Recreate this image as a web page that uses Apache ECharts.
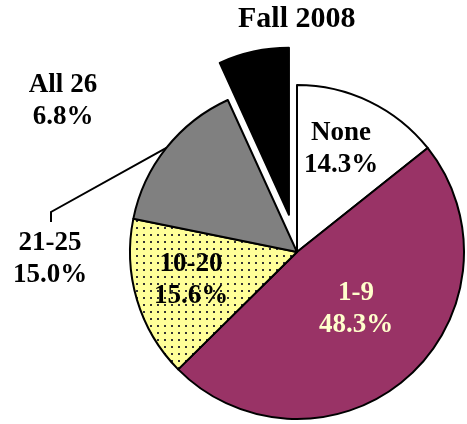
<!DOCTYPE html>
<html><head><meta charset="utf-8">
<script src="https://cdn.jsdelivr.net/npm/echarts@6/dist/echarts.min.js"></script>
<style>html,body{margin:0;padding:0;background:#fff}#c{width:467px;height:424px}</style>
</head><body><div id="c"></div>
<script>
// ---- data ----
const chartTitle = 'Fall 2008';
const categories = ['None', '1-9', '10-20', '21-25', 'All 26'];
const values = [14.3, 48.3, 15.6, 15.0, 6.8];
const explodedCategory = 'All 26';
const leaderLineCategory = '21-25';

// ---- styles ----
const FONT = 'Liberation Serif, Times New Roman, serif';
const CENTER = [297, 252];
const RADIUS = 167;

function dotPattern() {
  const c = document.createElement('canvas');
  c.width = 7; c.height = 7;
  const ctx = c.getContext('2d');
  ctx.fillStyle = '#FFFF99';
  ctx.fillRect(0, 0, 7, 7);
  ctx.fillStyle = '#333';
  ctx.fillRect(3, 3, 2, 2);
  return c;
}
const sliceColors = ['#FFFFFF', '#993366', { image: dotPattern(), repeat: 'repeat' }, '#808080', '#000000'];
const labelColors = ['#000', '#FFFFCC', '#000', '#000', '#000'];
const labelInside = [true, true, true, false, false];
const labelPos = [[341, 149], [356, 309], [191, 280], [50, 259], [63, 101]];

const total = values.reduce((a, b) => a + b, 0);
function midAngle(i) { // clockwise from top, radians
  let cum = 0;
  for (let k = 0; k < i; k++) cum += values[k];
  return (cum + values[i] / 2) / total * 2 * Math.PI;
}

// Pie slices (with the exploded one selected)
const sliceData = categories.map((name, i) => ({
  name: name,
  value: values[i],
  selected: name === explodedCategory,
  itemStyle: { color: sliceColors[i] },
  select: { itemStyle: { color: sliceColors[i], borderColor: '#000', borderWidth: 2 } }
}));

// Label layer: same values, transparent sectors, carries the labels
const labelData = categories.map((name, i) => ({
  name: name,
  value: values[i],
  label: { position: labelInside[i] ? 'inside' : 'outside', color: labelColors[i] },
  labelLine: { show: name === leaderLineCategory, lineStyle: { color: '#000', width: 2 } }
}));

const chart = echarts.init(document.getElementById('c'), null, { renderer: 'canvas' });
chart.setOption({
  animation: false,
  title: {
    text: chartTitle, left: 233, top: -1,
    textStyle: { fontFamily: FONT, fontWeight: 'bold', fontSize: 30, color: '#000' }
  },
  series: [{
    type: 'pie',
    center: CENTER,
    radius: RADIUS,
    startAngle: 90,
    clockwise: true,
    selectedMode: 'single',
    selectedOffset: 38,
    emphasis: { disabled: true },
    itemStyle: { borderColor: '#000', borderWidth: 2 },
    label: { show: false },
    labelLine: { show: false },
    data: sliceData
  }, {
    type: 'pie',
    center: CENTER,
    radius: RADIUS,
    startAngle: 90,
    clockwise: true,
    silent: true,
    z: 3,
    avoidLabelOverlap: false,
    emphasis: { disabled: true },
    itemStyle: { color: 'rgba(0,0,0,0)', borderWidth: 0 },
    label: {
      show: true,
      fontFamily: FONT, fontWeight: 'bold', fontSize: 27, lineHeight: 32,
      formatter: p => p.name + '\n' + p.value.toFixed(1) + '%'
    },
    labelLine: { lineStyle: { color: '#000', width: 2 } },
    labelLayout: function (params) {
      const i = params.dataIndex;
      const res = { x: labelPos[i][0], y: labelPos[i][1], align: 'center', verticalAlign: 'middle' };
      if (categories[i] === leaderLineCategory) {
        const a = midAngle(i);
        const ex = CENTER[0] + RADIUS * Math.sin(a);
        const ey = CENTER[1] - RADIUS * Math.cos(a);
        const lx = labelPos[i][0] + 1;
        const top = labelPos[i][1] - 37;
        res.labelLinePoints = [[ex, ey], [lx, top - 10], [lx, top]];
      }
      return res;
    },
    data: labelData
  }]
});
</script>
</body></html>
